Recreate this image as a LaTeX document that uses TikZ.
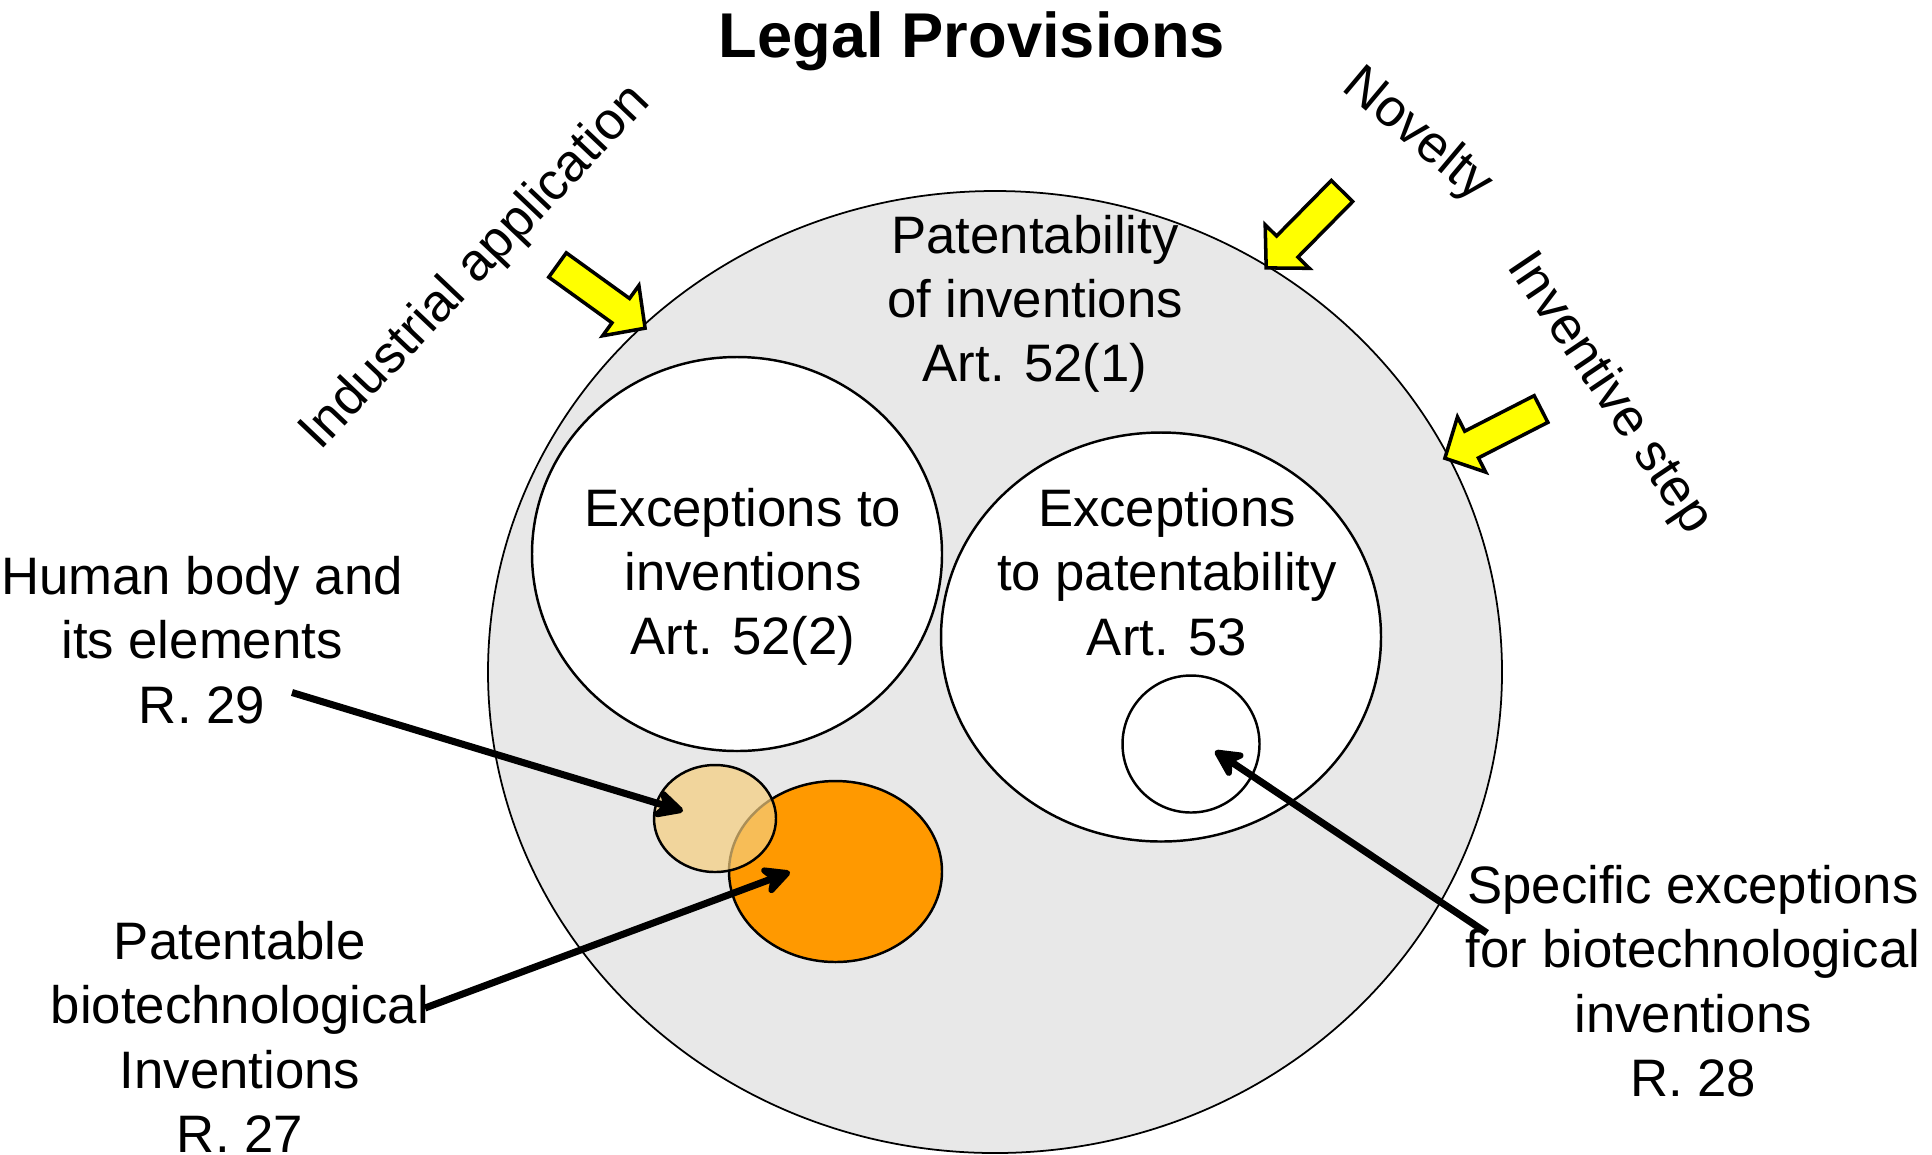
\documentclass[tikz,border=0pt]{standalone}
\usepackage{fontspec}
\setmainfont{Liberation Sans}
\usetikzlibrary{arrows.meta}
\usetikzlibrary{shapes.geometric}

\definecolor{circlegrey}{RGB}{232,232,232}
\definecolor{bioorange}{RGB}{255,153,0}
\definecolor{humanbeige}{RGB}{245,205,125}
\definecolor{crityellow}{RGB}{255,255,0}

\tikzset{
  lbl/.style={font=\fontsize{15}{18.3}\selectfont, align=center, inner sep=0pt},
  area/.style={ellipse, draw, line width=0.7pt, inner sep=0pt},
  conn/.style={line width=2pt, -{Stealth[length=10pt,width=10pt,inset=3pt,round]}},
  yarrow/.pic={\draw[fill=crityellow, line width=1pt, line join=miter]
    (0,-0.15) -- (0.78,-0.15) -- (0.78,-0.31) -- (1.08,0) -- (0.78,0.31) -- (0.78,0.15) -- (0,0.15) -- cycle;}
}

\begin{document}
\begin{tikzpicture}
        \useasboundingbox (0,0) rectangle (19.32,-11.54);

        % Circles
        \node[area, fill=circlegrey, line width=0.5pt, minimum width=10.14cm, minimum height=9.62cm] (legal) at (9.95,-6.72) {};
        \node[area, fill=white, minimum width=4.10cm, minimum height=3.94cm] (exinv) at (7.37,-5.54) {};
        \node[area, fill=white, minimum width=4.40cm, minimum height=4.09cm] (expat) at (11.61,-6.37) {};
        \node[area, fill=white, minimum size=1.37cm] (specific) at (11.91,-7.44) {};
        \node[area, fill=bioorange, minimum width=2.13cm, minimum height=1.81cm] (biotech) at (8.355,-8.715) {};
        \node[area, fill=humanbeige, fill opacity=0.7, minimum width=1.22cm, minimum height=1.07cm] (human) at (7.15,-8.185) {};

        % Labels
        \node[font=\fontsize{18}{21}\selectfont\bfseries, anchor=base, inner sep=0pt] (title) at (9.72,-0.57) {Legal Provisions};
        \node[lbl] (patlbl) at (10.35,-3.04) {Patentability\\of inventions\\Art. 52(1)};
        \node[lbl] (exinvlbl) at (7.43,-5.77) {Exceptions to\\inventions\\Art. 52(2)};
        \node[lbl] (expatlbl) at (11.67,-5.72) {Exceptions\\to patentability\\Art. 53};
        \node[lbl] (humlbl) at (2.02,-6.40) {Human body and\\its elements\\R. 29};
        \node[lbl] (biolbl) at (2.40,-10.37) {Patentable\\biotechnological\\Inventions\\R. 27};
        \node[lbl] (speclbl) at (16.93,-9.81) {Specific exceptions\\for biotechnological\\inventions\\R. 28};
        \node[lbl, rotate=46.5] (indlbl) at (4.76,-2.68) {Industrial application};
        \node[lbl, rotate=-40] (novlbl) at (14.17,-1.355) {Novelty};
        \node[lbl, rotate=-56] (invlbl) at (16.09,-3.94) {Inventive step};

        % Criteria arrows
        \pic[rotate=-35.8] at (5.575,-2.65) {yarrow};
        \pic[rotate=-134.6] at (13.42,-1.91) {yarrow};
        \pic[rotate=-152.9] at (15.41,-4.09) {yarrow};

        % Pointers
        \coordinate (humfrom) at (2.92,-6.925);
        \coordinate (biofrom) at (4.25,-10.08);
        \coordinate (specfrom) at (14.87,-9.33);
        \draw[conn] (humfrom) -- ([shift={(-0.32,0.075)}]human.center);
        \draw[conn] (biofrom) -- ([shift={(-0.455,-0.005)}]biotech.center);
        \draw[conn] (specfrom) -- ([shift={(0.24,-0.07)}]specific.center);
    \end{tikzpicture}
\end{document}
